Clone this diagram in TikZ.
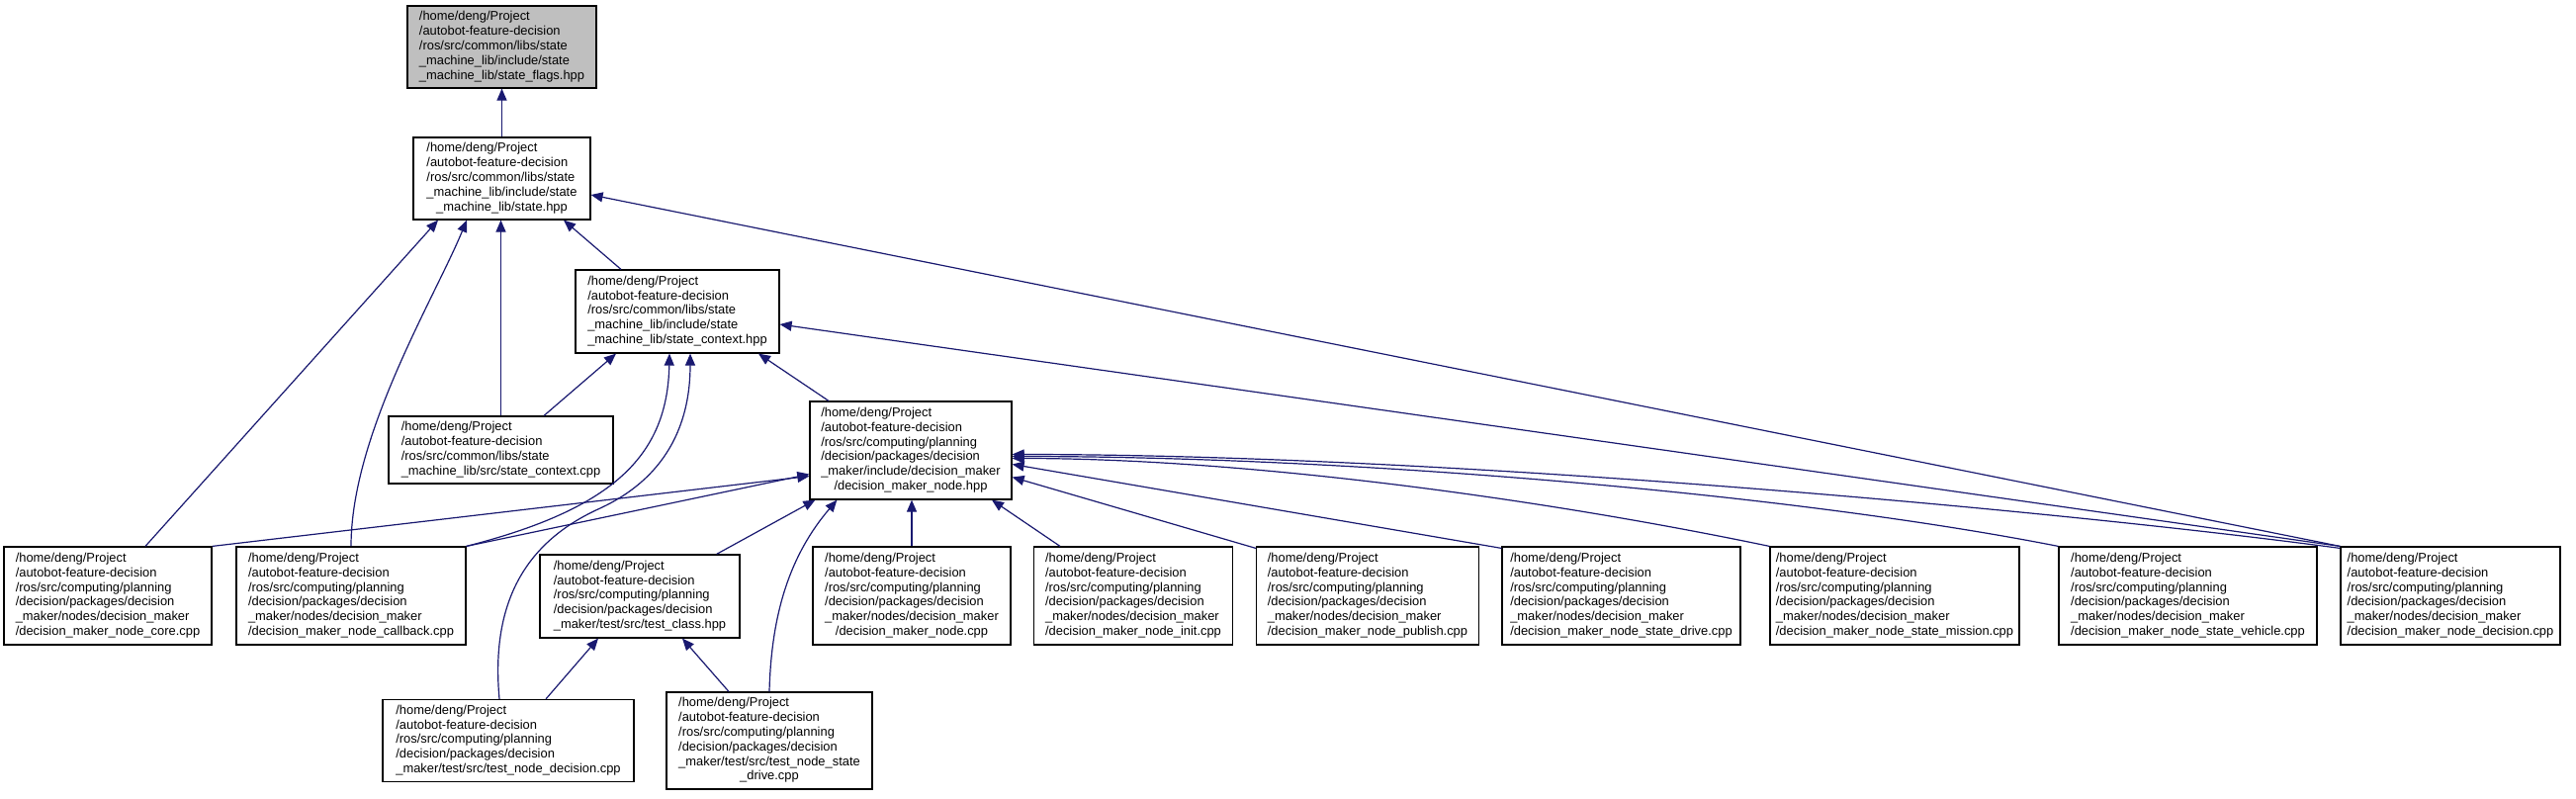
\documentclass[tikz,border=0pt]{standalone}
\usepackage{fontspec}
\setmainfont{Liberation Sans}
\usetikzlibrary{arrows.meta,calc}
\definecolor{edgeblue}{HTML}{191970}
\definecolor{hlgray}{HTML}{BFBFBF}
\newcommand{\filelbl}[2]{\begin{tabular}{@{}l@{}}#1\\\multicolumn{1}{@{}c@{}}{#2}\end{tabular}}
\newcommand{\pathA}{/home/deng/Project\\/autobot-feature-decision\\/ros/src/common/libs/state}
\newcommand{\pathB}{/home/deng/Project\\/autobot-feature-decision\\/ros/src/computing/planning\\/decision/packages/decision}
\begin{document}
\begin{tikzpicture}[x=1pt,y=-1pt,
  filebox/.style={draw=black, line width=1.2pt, inner sep=0pt, minimum width=#1,
    font=\fontsize{12.9}{14.8}\selectfont},
  dep/.style={draw=edgeblue, line width=1.2pt, -{Triangle[length=12pt,width=10pt]}, edgeblue}]
\useasboundingbox[fill=white] (0,0) rectangle (2605,807);

% nodes
\node[filebox=191, minimum height=83, fill=hlgray] (flags) at (507.5,47.5)
  {\filelbl{\pathA\\\_machine\_lib/include/state}{\_machine\_lib/state\_flags.hpp}};
\node[filebox=179, minimum height=83] (state) at (507.5,180.5)
  {\filelbl{\pathA\\\_machine\_lib/include/state}{\_machine\_lib/state.hpp}};
\node[filebox=206, minimum height=84] (ctxh) at (685,315)
  {\filelbl{\pathA\\\_machine\_lib/include/state}{\_machine\_lib/state\_context.hpp}};
\node[filebox=227, minimum height=68] (ctxc) at (506.5,455)
  {\filelbl{\pathA}{\_machine\_lib/src/state\_context.cpp}};
\node[filebox=204, minimum height=99] (dmn) at (921,455.5)
  {\filelbl{\pathB\\\_maker/include/decision\_maker}{/decision\_maker\_node.hpp}};

\node[filebox=210, minimum height=99] (core) at (109,602.5)
  {\filelbl{\pathB\\\_maker/nodes/decision\_maker}{/decision\_maker\_node\_core.cpp}};
\node[filebox=232, minimum height=99] (cb) at (355,602.5)
  {\filelbl{\pathB\\\_maker/nodes/decision\_maker}{/decision\_maker\_node\_callback.cpp}};
\node[filebox=202, minimum height=84] (tcls) at (647,603)
  {\filelbl{\pathB}{\_maker/test/src/test\_class.hpp}};
\node[filebox=200, minimum height=99] (ncpp) at (922,602.5)
  {\filelbl{\pathB\\\_maker/nodes/decision\_maker}{/decision\_maker\_node.cpp}};
\node[filebox=201, minimum height=99] (init) at (1146,602.5)
  {\filelbl{\pathB\\\_maker/nodes/decision\_maker}{/decision\_maker\_node\_init.cpp}};
\node[filebox=225, minimum height=99] (pub) at (1383,602.5)
  {\filelbl{\pathB\\\_maker/nodes/decision\_maker}{/decision\_maker\_node\_publish.cpp}};
\node[filebox=241, minimum height=99] (sdrive) at (1639.5,602.5)
  {\filelbl{\pathB\\\_maker/nodes/decision\_maker}{/decision\_maker\_node\_state\_drive.cpp}};
\node[filebox=252, minimum height=99] (smission) at (1916,602.5)
  {\filelbl{\pathB\\\_maker/nodes/decision\_maker}{/decision\_maker\_node\_state\_mission.cpp}};
\node[filebox=261, minimum height=99] (svehicle) at (2212.5,602.5)
  {\filelbl{\pathB\\\_maker/nodes/decision\_maker}{/decision\_maker\_node\_state\_vehicle.cpp}};
\node[filebox=222, minimum height=99] (dec) at (2478,602.5)
  {\filelbl{\pathB\\\_maker/nodes/decision\_maker}{/decision\_maker\_node\_decision.cpp}};

\node[filebox=254, minimum height=83] (tnd) at (514,749)
  {\filelbl{\pathB}{\_maker/test/src/test\_node\_decision.cpp}};
\node[filebox=208, minimum height=98] (tnsd) at (778,749)
  {\filelbl{\pathB\\\_maker/test/src/test\_node\_state}{\_drive.cpp}};

% edges (arrow at the included file)
\draw[dep] (state.north) -- (flags.south);
\draw[dep] ($(core.north)+(38,0)$) -- ($(state.south)+(-64.5,0)$);
\draw[dep] (cb.north) .. controls ($(cb.north)+(0,-113)$) and ($(state.south)+(-67.5,78)$) .. ($(state.south)+(-35.5,0)$);
\draw[dep] (ctxc.north) -- (ctxc.north |- state.south);
\draw[dep] ($(ctxh.north)+(-57,0)$) -- ($(state.south)+(62.5,0)$);
\draw[dep] (dec.north west) -- ($(state.east)+(0,16.5)$);

\draw[dep] ($(ctxc.north)+(43.5,0)$) -- ($(ctxh.south)+(-62,0)$);
\draw[dep] (cb.north east) .. controls ($(cb.north east)+(149,-38)$) and ($(ctxh.south)+(-10,103)$) .. ($(ctxh.south)+(-8,0)$);
\draw[dep] ($(tnd.north)+(-9,0)$) .. controls ($(tnd.north)+(-19,-107.5)$) and ($(tnd.north)+(26,-162.5)$) .. ($(tnd.north)+(92,-192.5)$)
  .. controls ($(ctxh.south)+(-5,123)$) and ($(ctxh.south)+(13,63)$) .. ($(ctxh.south)+(13,0)$);
\draw[dep] ($(dmn.north)+(-83,0)$) -- ($(ctxh.south)+(82,0)$);
\draw[dep] (dec.north west) -- ($(ctxh.east)+(0,13)$);

\draw[dep] (core.north east) -- ($(dmn.west)+(0,26)$);
\draw[dep] (cb.north east) -- ($(dmn.west)+(0,24)$);
\draw[dep] ($(tcls.north east)+(-24,0)$) -- ($(dmn.south west)+(6,0)$);
\draw[dep] (tnsd.north) .. controls ($(tnsd.north)+(2,-80)$) and ($(dmn.south west)+(-19,55)$) .. ($(dmn.south west)+(28,0)$);
\draw[dep] (ncpp.north) -- (ncpp.north |- dmn.south);
\draw[dep] ($(init.north)+(-74,0)$) -- ($(dmn.south)+(82,0)$);
\draw[dep] ($(pub.north west)+(0,2)$) -- ($(dmn.east)+(0,27)$);
\draw[dep] ($(sdrive.north west)+(0,2)$) -- ($(dmn.east)+(0,14)$);
\draw[dep] (smission.north west) .. controls ($(smission.north west)+(-240,-50)$) and ($(dmn.east)+(230,8)$) .. ($(dmn.east)+(0,8)$);
\draw[dep] (svehicle.north west) .. controls ($(svehicle.north west)+(-280,-55)$) and ($(dmn.east)+(330,6)$) .. ($(dmn.east)+(0,6)$);
\draw[dep] ($(dec.north west)+(0,2)$) .. controls ($(dec.north west)+(-300,-38)$) and ($(dmn.east)+(430,4)$) .. ($(dmn.east)+(0,4)$);

\draw[dep] ($(tnd.north)+(38,0)$) -- ($(tcls.south)+(-42,0)$);
\draw[dep] ($(tnsd.north)+(-41,0)$) -- ($(tcls.south)+(43,0)$);
\end{tikzpicture}
\end{document}
